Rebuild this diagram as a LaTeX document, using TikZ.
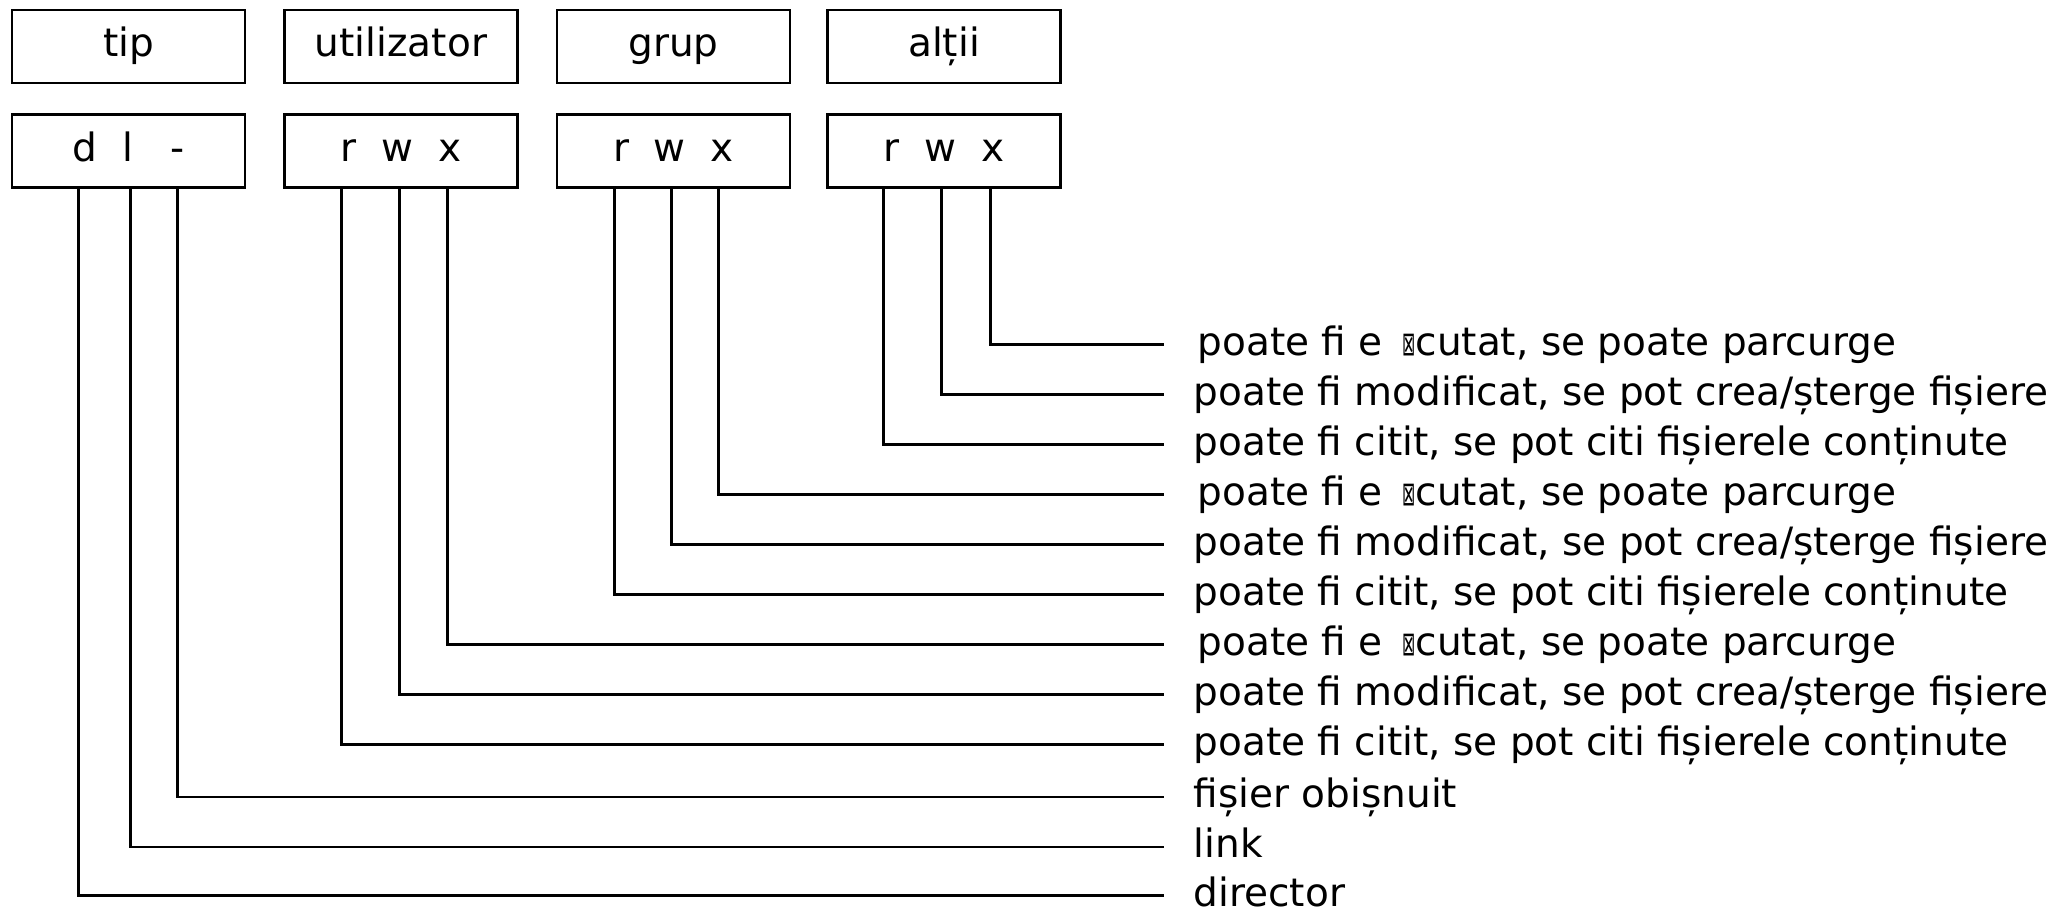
\documentclass[tikz,border=0pt]{standalone}
\usepackage{fontspec}
\setmainfont{DejaVu Sans}
\usepackage{tikz}
\usetikzlibrary{positioning}
\tikzset{
  PermBox/.style={
    draw, line width=0.8pt,
    minimum width=2.33cm, minimum height=0.73cm,
    inner sep=0pt, text height=0.76em, text depth=0.24em
  },
  PermLabel/.style={
    anchor=mid west,
    inner xsep=0.29cm, inner ysep=0pt,
    text height=0.49em, text depth=0.15em
  },
  PermLine/.style={line width=0.8pt}
}
\newcommand{\BoxedX}{\resizebox{0.34em}{1ex}{⊠}}

\begin{document}
\begin{tikzpicture}[x=1cm, y=-1cm, line join=miter]
  \fontsize{11.1pt}{13pt}\selectfont
  \useasboundingbox (0,0) rectangle (20.63,9.12);

  % header boxes
  \node[PermBox] (tipH)   at (1.285,0.465) {tip};
  \node[PermBox] (utilH)  at (4.01,0.465)  {utilizator};
  \node[PermBox] (grupH)  at (6.735,0.465) {grup};
  \node[PermBox] (altiiH) at (9.44,0.465)  {alții};

  % permission boxes
  \node[PermBox, below=0.29cm of tipH]   (tipV)   {d~~l~~~-};
  \node[PermBox, below=0.29cm of utilH]  (utilV)  {r~~w~~x};
  \node[PermBox, below=0.29cm of grupH]  (grupV)  {r~~w~~x};
  \node[PermBox, below=0.29cm of altiiH] (altiiV) {r~~w~~x};

  % meanings
  \node[PermLabel] (oX) at (11.64,3.447) {\kern0.1em poate fi e\hspace{0.5em}\BoxedX cutat, se poate parcurge};
  \node[PermLabel] (oW) at (11.64,3.947) {poate fi modificat, se pot crea/șterge fișiere};
  \node[PermLabel] (oR) at (11.64,4.447) {poate fi citit, se pot citi fișierele conținute};
  \node[PermLabel] (gX) at (11.64,4.947) {\kern0.1em poate fi e\hspace{0.5em}\BoxedX cutat, se poate parcurge};
  \node[PermLabel] (gW) at (11.64,5.447) {poate fi modificat, se pot crea/șterge fișiere};
  \node[PermLabel] (gR) at (11.64,5.947) {poate fi citit, se pot citi fișierele conținute};
  \node[PermLabel] (uX) at (11.64,6.447) {\kern0.1em poate fi e\hspace{0.5em}\BoxedX cutat, se poate parcurge};
  \node[PermLabel] (uW) at (11.64,6.947) {poate fi modificat, se pot crea/șterge fișiere};
  \node[PermLabel] (uR) at (11.64,7.447) {poate fi citit, se pot citi fișierele conținute};
  \node[PermLabel] (tF) at (11.64,7.97)  {fișier obișnuit};
  \node[PermLabel] (tL) at (11.64,8.47)  {link};
  \node[PermLabel] (tD) at (11.64,8.955) {director};

  % others
  \draw[PermLine] ([xshift=1.64cm]altiiV.south west) |- (oX.mid west);
  \draw[PermLine] ([xshift=1.15cm]altiiV.south west) |- (oW.mid west);
  \draw[PermLine] ([xshift=0.575cm]altiiV.south west) |- (oR.mid west);

  % group
  \draw[PermLine] ([xshift=1.63cm]grupV.south west) |- (gX.mid west);
  \draw[PermLine] ([xshift=1.156cm]grupV.south west) |- (gW.mid west);
  \draw[PermLine] ([xshift=0.59cm]grupV.south west) |- (gR.mid west);

  % user
  \draw[PermLine] ([xshift=1.64cm]utilV.south west) |- (uX.mid west);
  \draw[PermLine] ([xshift=1.16cm]utilV.south west) |- (uW.mid west);
  \draw[PermLine] ([xshift=0.58cm]utilV.south west) |- (uR.mid west);

  % type
  \draw[PermLine] ([xshift=1.67cm]tipV.south west) |- (tF.mid west);
  \draw[PermLine] ([xshift=1.196cm]tipV.south west) |- (tL.mid west);
  \draw[PermLine] ([xshift=0.68cm]tipV.south west) |- (tD.mid west);
\end{tikzpicture}
\end{document}
